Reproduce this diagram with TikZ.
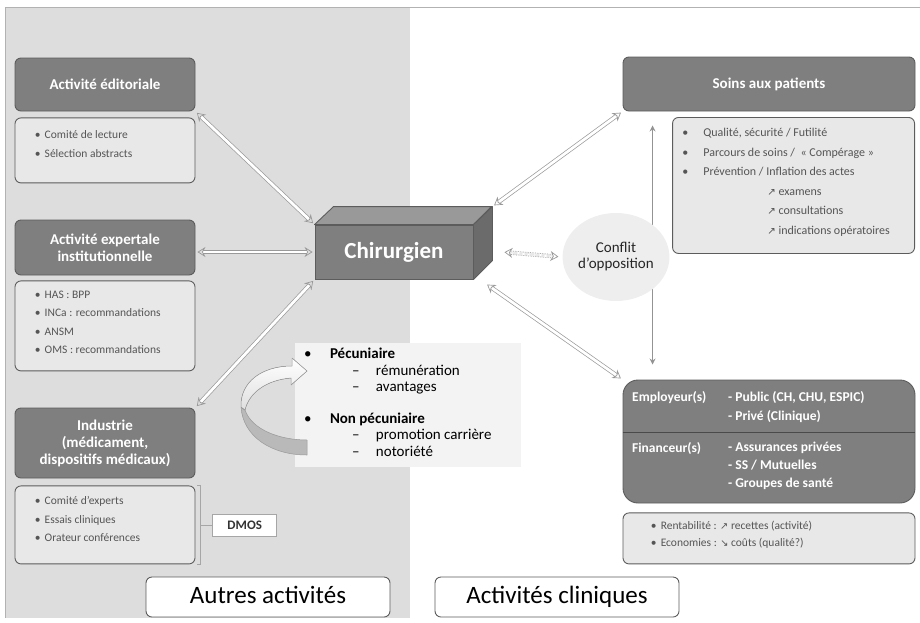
\documentclass[tikz,border=0pt]{standalone}
\usepackage{fontspec}
\setmainfont{Carlito}
\newfontfamily\symfont{DejaVu Sans}
\usetikzlibrary{positioning,arrows.meta,shapes.geometric}

\definecolor{bgleft}{HTML}{DDDDDD}
\definecolor{hdfill}{HTML}{7F7F7F}
\definecolor{hdline}{HTML}{5C5C5C}
\definecolor{lsfill}{HTML}{E8E8E8}
\definecolor{txtgray}{HTML}{555555}
\definecolor{pecfill}{HTML}{F3F3F3}
\definecolor{ctop}{HTML}{999999}
\definecolor{cside}{HTML}{6B6B6B}

\newcommand{\itm}[1]{\makebox[10pt][l]{\textbullet}#1}
\newcommand{\itr}[1]{\makebox[21pt][l]{\textbullet}#1}
\newcommand{\up}{{\symfont\scalebox{0.85}{\char"2197}}}
\newcommand{\down}{{\symfont\scalebox{0.85}{\char"2198}}}

\tikzset{
  head/.style={draw=hdline, fill=hdfill, line width=0.9pt, rounded corners=6pt,
    text=white, font=\bfseries\fontsize{15}{17}\selectfont, align=center,
    minimum width=180pt, inner sep=0pt},
  lbox/.style={draw=hdline, fill=lsfill, line width=0.9pt, rounded corners=6pt,
    minimum width=180pt, inner sep=0pt},
  ltext/.style={text=txtgray, font=\fontsize{11.5}{18.5}\selectfont, align=left,
    inner sep=0pt, anchor=north west},
  hollow/.style={draw=gray!80, line width=0.7pt, double=white, double distance=2.8pt,
    {Stealth[open,length=8pt,width=10pt,line width=0.7pt]}-{Stealth[open,length=8pt,width=10pt,line width=0.7pt]},
    shorten <=2pt, shorten >=2pt},
  tag/.style={draw=hdline, fill=white, line width=0.9pt, rounded corners=6pt,
    font=\fontsize{25}{28}\selectfont, minimum height=40pt, minimum width=244pt,
    text height=17pt, text depth=5pt, inner sep=0pt},
  emptext/.style={text=white, font=\bfseries\fontsize{13.5}{19}\selectfont, align=left,
    inner sep=0pt, anchor=north west},
}

\begin{document}
\begin{tikzpicture}[x=1pt,y=-1pt]
\useasboundingbox (0,0) rectangle (920,622);
% fond
\fill[bgleft] (5,7) rectangle (410,618);
\draw[gray!60, line width=0.8pt] (920,7) -- (5,7) -- (5,618);

% autres activites
\node[head, minimum height=53pt] (edit) at (105,84.5) {Activité éditoriale};
\node[lbox, below=6pt of edit, minimum height=65pt] (editl) {};
\node[ltext] (editt) at ([xshift=20pt,yshift=-13pt]editl.north west)
  {\itm{Comité de lecture}\\\itm{Sélection abstracts}};

\node[head, minimum height=55pt] (expert) at (105,247.5) {Activité expertale\\institutionnelle};
\node[lbox, below=5pt of expert, minimum height=90pt] (expertl) {};
\node[ltext] (expertt) at ([xshift=20pt,yshift=-10pt]expertl.north west)
  {\itm{HAS : BPP}\\\itm{INCa : recommandations}\\\itm{ANSM}\\\itm{OMS : recommandations}};

\node[head, minimum height=70pt] (indus) at (105,443) {Industrie\\(médicament,\\dispositifs médicaux)};
\node[lbox, below=7pt of indus, minimum height=78pt] (indusl) {};
\node[ltext] (indust) at ([xshift=20pt,yshift=-11pt]indusl.north west)
  {\itm{Comité d’experts}\\\itm{Essais cliniques}\\\itm{Orateur conférences}};

\node[draw=gray!70, fill=white, line width=0.5pt, minimum width=64pt, minimum height=22pt,
  inner sep=0pt, font=\bfseries\fontsize{13}{15}\selectfont, text=black!80,
  right=17pt of indusl] (dmos) {DMOS};
\draw[gray!70, line width=0.6pt] ([xshift=2pt]indusl.north east) -- ++(3,0)
  -- ([xshift=5pt]indusl.south east) -- ++(-3,0);
\draw[gray!70, line width=0.6pt] ([xshift=5pt]indusl.east) -- (dmos.west);

% chirurgien
\node[draw=hdline, fill=hdfill, line width=0.9pt, minimum width=158pt, minimum height=54pt,
  inner sep=0pt, text=white, font=\bfseries\fontsize{23}{26}\selectfont] (chir) at (394,252) {Chirurgien};
\filldraw[draw=hdline, fill=ctop, line width=0.9pt, line join=round]
  (chir.north west) -- ++(19,-18) -- ++(158,0) -- (chir.north east) -- cycle;
\filldraw[draw=hdline, fill=cside, line width=0.9pt, line join=round]
  (chir.north east) -- ++(19,-18) -- ++(0,54) -- (chir.south east) -- cycle;
\coordinate (cbk) at ([shift={(19,-18)}]chir.north east);
\coordinate (csd) at (cbk |- chir.east);

% activites cliniques
\node[head, minimum width=292pt, minimum height=54pt] (soins) at (769,84) {Soins aux patients};
\node[lbox, minimum width=242pt, minimum height=136pt, anchor=north east] (soinsl) at (915,117) {};
\node[ltext, font=\fontsize{12}{19.5}\selectfont] (soinst) at ([xshift=10pt,yshift=-11pt]soinsl.north west)
  {\itr{Qualité, sécurité / Futilité}\\
   \itr{Parcours de soins /\ \ « Compérage »}\\
   \itr{Prévention / Inflation des actes}\\
   \hspace*{85pt}\up\ examens\\
   \hspace*{85pt}\up\ consultations\\
   \hspace*{85pt}\up\ indications opératoires};

\node[draw=hdline, fill=hdfill, line width=0.9pt, rounded corners=15pt, minimum width=292pt,
  minimum height=123pt, inner sep=0pt] (emp) at (769,441.5) {};
\draw[hdline!80!black, line width=0.6pt] ([yshift=9.5pt]emp.west) -- ([yshift=9.5pt]emp.east);
\node[emptext] (empa) at (632,391) {Employeur(s)};
\node[emptext] (empb) at (728,391) {- Public (CH, CHU, ESPIC)\\- Privé (Clinique)};
\node[emptext] (fina) at (632,442) {Financeur(s)};
\node[emptext, font=\bfseries\fontsize{13.5}{18}\selectfont] (finb) at (728,442)
  {- Assurances privées\\- SS / Mutuelles\\- Groupes de santé};

\node[lbox, minimum width=292pt, minimum height=51pt, below=9pt of emp] (empl) {};
\node[ltext, font=\fontsize{11.5}{17}\selectfont] (emplt) at ([xshift=28pt,yshift=-8pt]empl.north west)
  {\itm{Rentabilité : \up\ recettes (activité)}\\\itm{Economies : \down\ coûts (qualité?)}};

% liens
\draw[hollow] (edit.south east) -- (chir.north west);
\draw[hollow] (expert.east |- chir.west) -- (chir.west);
\draw[hollow] (indus.north east) -- (chir.south west);
\draw[hollow] (cbk) -- (soins.south west);
\draw[hollow] ([xshift=12pt,yshift=-4pt]chir.south east) -- (emp.north west);

\draw[gray!85, line width=1.8pt, {Stealth[length=6pt,width=6pt]}-{Stealth[length=6pt,width=6pt]}]
  ([xshift=30pt,yshift=-14pt]soins.south west) -- ([xshift=30pt,yshift=15pt]emp.north west);

\node[ellipse, fill=gray!13, minimum width=103pt, minimum height=88pt, inner sep=0pt,
  align=center, text=black!85, font=\fontsize{15}{16}\selectfont] (conf) at (616,257) {Conflit\\d’opposition};
\draw[hollow, densely dotted, shorten >=4pt] ([xshift=10pt]csd) -- (conf.west);

% interets
\node[fill=pecfill, minimum width=226pt, minimum height=124pt, inner sep=0pt] (pec) at (408,405) {};
\node[inner sep=0pt, anchor=north west, align=left, font=\fontsize{15}{16.5}\selectfont]
  (pect) at ([xshift=9pt,yshift=-5pt]pec.north west)
  {\makebox[26pt][l]{\textbullet}\textbf{Pécuniaire}\\
   \hspace*{48pt}\makebox[24pt][l]{–}rémunération\\
   \hspace*{48pt}\makebox[24pt][l]{–}avantages\\[15pt]
   \makebox[26pt][l]{\textbullet}\textbf{Non pécuniaire}\\
   \hspace*{48pt}\makebox[24pt][l]{–}promotion carrière\\
   \hspace*{48pt}\makebox[24pt][l]{–}notoriété};

% fleche courbe
\filldraw[draw=gray!80, fill=gray!55, line width=0.5pt, line join=round]
  (241,407) .. controls (243,437) and (272,455) .. (307,455) -- (307,440)
  .. controls (280,440) and (252,430) .. (245,410) -- cycle;
\filldraw[draw=gray!80, top color=white, bottom color=gray!25, line width=0.5pt, line join=round]
  (292,366) -- (292,358) -- (307,371) -- (291,385) -- (291,378)
  .. controls (266,380) and (249,393) .. (245,410) -- (241,407)
  .. controls (240,382) and (262,366) .. (292,366) -- cycle;

% bas
\node[tag] (autres) at (268,597) {Autres activités};
\node[tag] (clin) at (557,597) {Activités cliniques};
\end{tikzpicture}
\end{document}
